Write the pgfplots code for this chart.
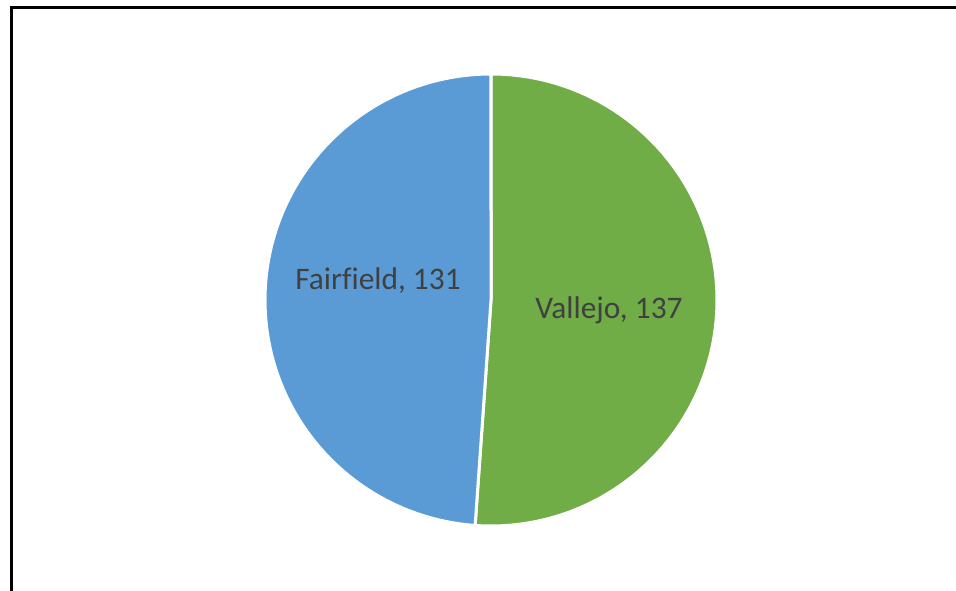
\documentclass[border=0pt]{standalone}
\usepackage{pgfplots}
\pgfplotsset{compat=1.18}
\usepackage{fontspec}
\setmainfont[Ligatures=NoCommon]{Carlito}
\definecolor{fairblue}{HTML}{5B9BD5}
\definecolor{vallgreen}{HTML}{70AD47}
\definecolor{labgray}{HTML}{404040}
% data
\def\valFairfield{131}
\def\valVallejo{137}
\begin{document}
\begin{tikzpicture}
\useasboundingbox (0,0) rectangle (956bp,591bp);
\clip (0,0) rectangle (956bp,591bp);
\begin{axis}[
  at={(0,0)}, anchor=south west,
  width=956bp, height=591bp, scale only axis,
  xmin=0, xmax=956, ymin=0, ymax=591,
  hide axis, clip=false,
]
\pgfmathsetmacro{\tot}{\valFairfield+\valVallejo}
\pgfmathsetmacro{\aend}{90-\valVallejo/\tot*360}
\pgfmathsetmacro{\bend}{\aend-\valFairfield/\tot*360}
% Vallejo slice (clockwise from top)
\addplot[fill=vallgreen, draw=white, line width=3bp, domain=\aend:90, samples=200, variable=\t]
  ({491+226*cos(\t)}, {291+226*sin(\t)}) -- (axis cs:491,291) -- cycle;
% Fairfield slice
\addplot[fill=fairblue, draw=white, line width=3bp, domain=\bend:\aend, samples=200, variable=\t]
  ({491+226*cos(\t)}, {291+226*sin(\t)}) -- (axis cs:491,291) -- cycle;
\node[text=labgray, font=\fontsize{31.5}{37}\selectfont] at (axis cs:378,310) {Fairfield, 131};
\node[text=labgray, font=\fontsize{31.5}{37}\selectfont] at (axis cs:609,281) {Vallejo, 137};
\draw[black, line width=3bp] (axis cs:11.5,-10) -- (axis cs:11.5,583) -- (axis cs:970,583);
\end{axis}
\end{tikzpicture}
\end{document}
